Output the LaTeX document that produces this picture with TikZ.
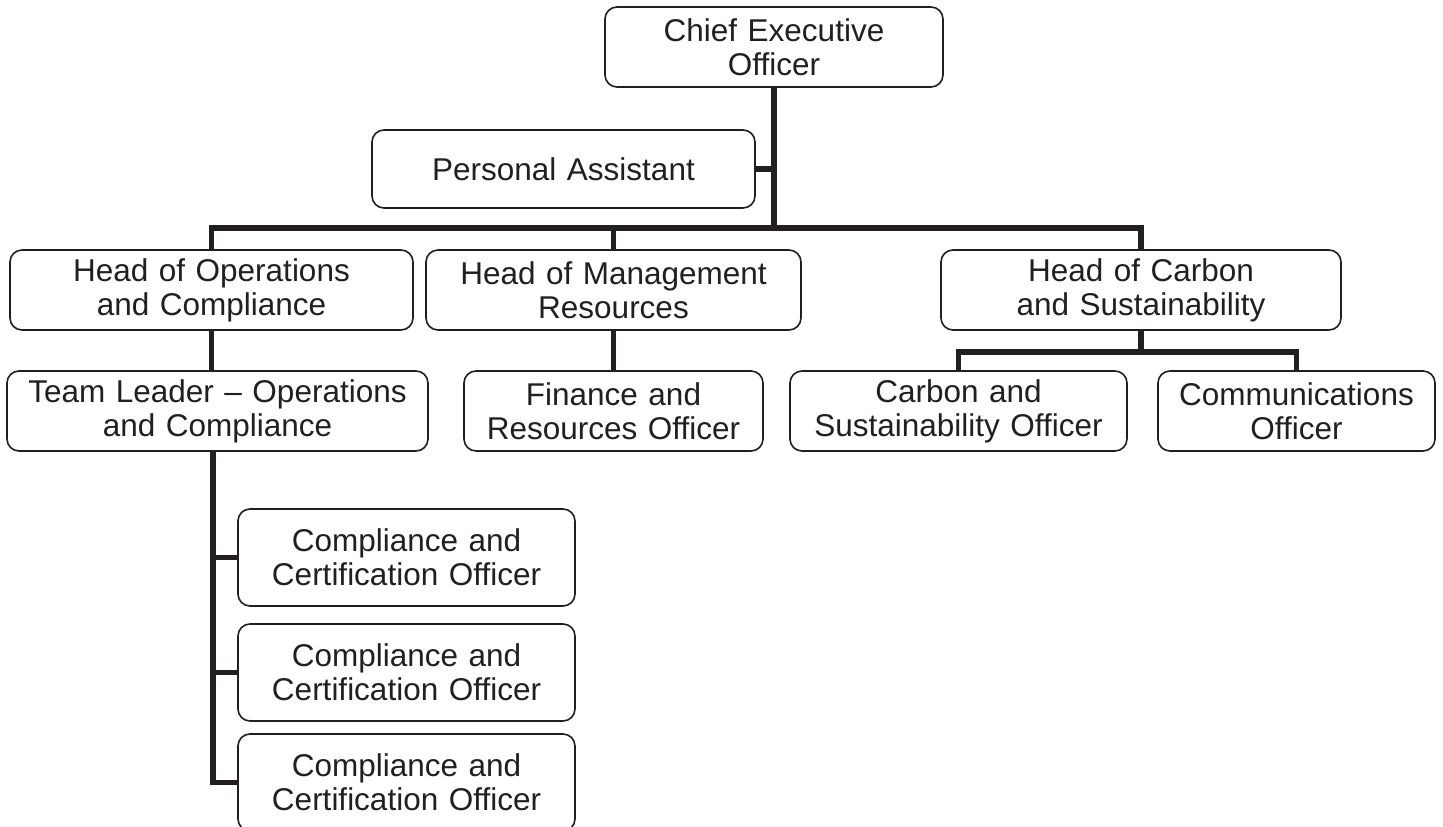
\documentclass[tikz,border=0pt]{standalone}
\usepackage{fontspec}
\setmainfont{Liberation Sans}
\definecolor{ink}{RGB}{35,31,32}
\tikzset{
  box/.style={draw=ink, line width=1.6pt, rounded corners=12pt, fill=white, text=ink,
    align=center, inner sep=0pt, font=\fontsize{31.5}{34}\selectfont},
  link/.style={draw=ink, line width=5.5pt},
}
\begin{document}
\begin{tikzpicture}[x=1pt,y=-1pt]
\useasboundingbox (0,0) rectangle (1443,827);
\clip (0,0) rectangle (1443,827);
\node[box, minimum width=338pt, minimum height=80pt, text width=328pt] (ceo) at (774,47) {Chief Executive\\Officer};
\node[box, minimum width=383pt, minimum height=78pt, text width=373pt] (pa) at (563.5,169) {Personal Assistant};
\node[box, minimum width=403pt, minimum height=80pt, text width=393pt] (hops) at (211.5,290) {Head of Operations\\and Compliance};
\node[box, minimum width=375pt, minimum height=80pt, text width=365pt] (hmgmt) at (613.5,290) {Head of Management\\Resources};
\node[box, minimum width=400pt, minimum height=80pt, text width=390pt] (hcarb) at (1141,290) {Head of Carbon\\and Sustainability};
\node[box, minimum width=421pt, minimum height=80pt, text width=411pt] (tl) at (217.5,411) {Team Leader -- Operations\\and Compliance};
\node[box, minimum width=299pt, minimum height=80pt, text width=289pt] (fin) at (613.5,411) {Finance and\\Resources Officer};
\node[box, minimum width=337pt, minimum height=80pt, text width=327pt] (carbo) at (958.5,411) {Carbon and\\Sustainability Officer};
\node[box, minimum width=277pt, minimum height=80pt, text width=267pt] (comms) at (1296.5,411) {Communications\\Officer};
\node[box, minimum width=337pt, minimum height=97pt, text width=327pt] (cc1) at (406.5,557.5) {Compliance and\\Certification Officer};
\node[box, minimum width=337pt, minimum height=97pt, text width=327pt] (cc2) at (406.5,672.5) {Compliance and\\Certification Officer};
\node[box, minimum width=337pt, minimum height=97pt, text width=327pt] (cc3) at (406.5,782.5) {Compliance and\\Certification Officer};
\coordinate (busy) at (0,228);
\coordinate (cby) at (0,352);
\coordinate (spx) at (213,0);
\draw[link] (ceo.south) -- (ceo.south |- busy);
\draw[link] (pa.east) -- (pa.east -| ceo.south);
\draw[link] (hops.north) -- (hops.north |- busy) -- (hcarb.north |- busy) -- (hcarb.north);
\draw[link] (hmgmt.north) -- (hmgmt.north |- busy);
\draw[link] (hops.south) -- (hops.south |- tl.north);
\draw[link] (hmgmt.south) -- (fin.north);
\draw[link] (hcarb.south) -- (hcarb.south |- cby);
\draw[link] (carbo.north) -- (carbo.north |- cby) -- (comms.north |- cby) -- (comms.north);
\draw[link] (spx |- tl.south) |- (cc3.west);
\draw[link] (spx |- cc1.west) -- (cc1.west);
\draw[link] (spx |- cc2.west) -- (cc2.west);
\end{tikzpicture}
\end{document}
